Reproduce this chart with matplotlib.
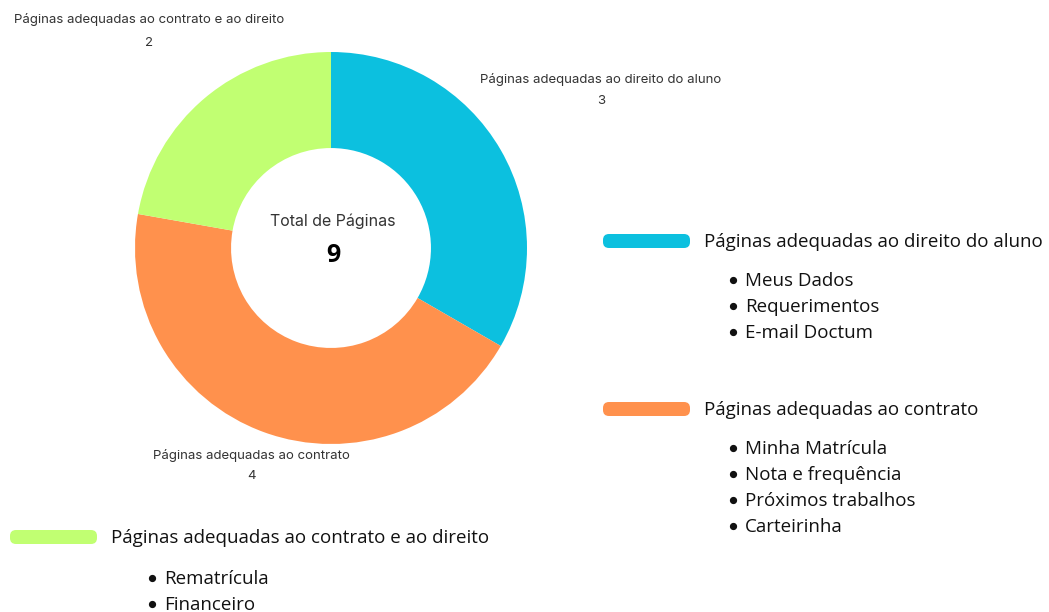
import matplotlib.pyplot as plt
from matplotlib.patches import FancyBboxPatch

# dados do gráfico
categorias = ["Páginas adequadas ao direito do aluno",
              "Páginas adequadas ao contrato",
              "Páginas adequadas ao contrato e ao direito"]
valores = [3, 4, 2]
cores = ["#0CC0DF", "#FF914D", "#C1FF72"]
paginas_aluno = ["Meus Dados", "Requerimentos", "E-mail Doctum"]
paginas_contrato = ["Minha Matrícula", "Nota e frequência", "Próximos trabalhos", "Carteirinha"]
paginas_ambos = ["Rematrícula", "Financeiro"]

W, H = 1049, 612
fig = plt.figure(figsize=(W / 100, H / 100), dpi=100)
fig.patch.set_facecolor("white")

# rosca
cx, cy, r = 331, 248, 196
ax = fig.add_axes([(cx - r) / W, (H - cy - r) / H, 2 * r / W, 2 * r / H])
ax.pie(valores, colors=cores, startangle=90, counterclock=False, radius=1,
       wedgeprops=dict(width=0.49, edgecolor="none"))
ax.set_xlim(-1, 1)
ax.set_ylim(-1, 1)
ax.axis("off")

# camada de texto em pixels
ov = fig.add_axes([0, 0, 1, 1], facecolor="none")
ov.set_xlim(0, W)
ov.set_ylim(H, 0)
ov.axis("off")

fonte_rot = "Inter"
fonte_leg = "Open Sans"
cinza = "#333333"

# rótulos das fatias
rotulos = [(601, 79, 101), (251, 455, 476), (149, 19, 43)]
for (x, y1, y2), cat, v in zip(rotulos, categorias, valores):
    ov.text(x, y1, cat, ha="center", va="center", fontsize=9.5, color=cinza,
            family=fonte_rot)
    ov.text(x, y2, str(v), ha="center", va="center", fontsize=9.5, color=cinza,
            family=fonte_rot)

# centro
ov.text(333, 221, "Total de Páginas", ha="center", va="center", fontsize=11.5,
        color=cinza, family=fonte_rot)
ov.text(333, 256, str(sum(valores)), ha="center", va="center", fontsize=18,
        fontweight="bold", color="black", family=fonte_leg)

# legenda com listas
grupos = [(603, 241, 733, 280, paginas_aluno),
          (603, 409, 733, 448, paginas_contrato),
          (10, 537, 152, 578, paginas_ambos)]
for (sx, sy, bx, by, itens), cat, cor in zip(grupos, categorias, cores):
    ov.add_patch(FancyBboxPatch((sx + 6, sy - 1), 75, 2,
                                boxstyle="round,pad=6", fc=cor, ec="none"))
    ov.text(sx + 101, sy + 1, cat, ha="left", va="center", fontsize=13.5,
            color="#111111", family=fonte_leg)
    for i, item in enumerate(itens):
        yy = by + 26 * i
        ov.plot(bx, yy, marker="o", markersize=4.2, color="#111111")
        ov.text(bx + 12, yy + 1, item, ha="left", va="center", fontsize=13.5,
                color="#111111", family=fonte_leg)

fig.savefig("out.png", dpi=100)
